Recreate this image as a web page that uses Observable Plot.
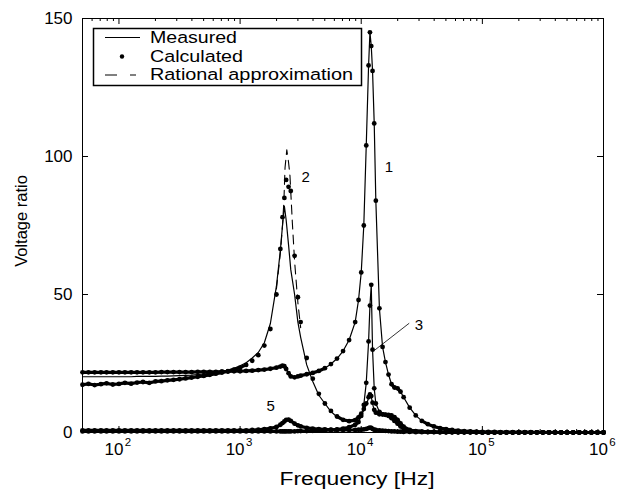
<!DOCTYPE html>
<html><head><meta charset="utf-8">
<script src="https://cdn.jsdelivr.net/npm/d3@7"></script>
<script src="https://cdn.jsdelivr.net/npm/@observablehq/plot@0.6"></script>
<style>body{margin:0;background:#fff} svg{display:block}</style>
</head><body><div id="chart"></div><script>
// Frequency grid [Hz]
const freq = [
  50, 56, 63, 71, 79, 89, 100, 112, 126, 141, 158, 178, 200, 224, 251, 282, 316, 355, 398, 447, 501, 562, 631, 708, 794, 891,
  1000, 1122, 1259, 1413, 1585, 1778, 1995, 2150, 2239, 2320, 2400, 2512, 2620, 2818, 3000, 3162, 3548, 3981, 4467, 5012, 5623, 6310, 7079, 7943, 8913, 9500,
  10000, 10500, 11000, 11500, 11800, 12100, 12400, 12800, 13200, 14125, 15000, 15849, 16800, 17783, 18800, 19953, 21100, 22387, 25119, 28184, 31623, 35481, 39811, 44668, 50119, 56234, 63096, 70795, 79433, 89125,
  100000, 112000, 126000, 141000, 158000, 178000, 200000, 224000, 251000, 282000, 316000, 355000, 398000, 447000, 501000, 562000, 631000, 708000, 794000, 891000, 1000000
];
// Curve 1
const measured1 = [
  21.8,21.8,21.8,21.8,21.8,21.8,21.8,21.8,21.8,21.8,21.8,21.8,21.8,21.9,21.9,21.9,21.9,21.9,21.9,22.0,22.0,22.0,22.0,22.1,22.1,22.2,
  22.2,22.3,22.4,22.6,22.8,23.1,23.5,23.9,24.2,24.0,23.0,21.5,20.3,20.0,20.3,20.6,21.1,21.6,22.3,23.3,24.8,26.8,29.5,33.5,40,48,
  58,75,104,133,145,140,131,112,84,45,31,25.5,21,17.5,16.3,16,14.8,12.8,9,6.2,4.2,3.0,2.2,1.6,1.2,0.9,0.7,0.5,0.4,0.3,
  0.25,0.2,0.2,0.15,0.15,0.1,0.1,0.1,0.1,0.05,0.05,0.05,0.05,0,0,0,0,0,0,0,0
];
const calculated1 = measured1;
// Curve 2
const measured2 = [
  20.2,20.2,20.2,20.2,20.2,20.2,20.2,20.2,20.2,20.3,20.3,20.3,20.3,20.4,20.4,20.5,20.6,20.7,20.8,21.0,21.2,21.5,21.8,22.1,22.6,23.3,
  24.2,25.3,27,29,32.5,39.5,53,66,75,82,77,68,59,50,40,34.5,24.5,18.5,13.5,10.5,7.6,5.6,4.4,3.9,4.3,5.2,
  6.5,8,10,12.5,13.5,13,10.5,8,7,6.5,6.6,6.6,6.2,5.5,4.5,3.4,2.4,1.5,0.7,0.4,0.3,0.2,0.2,0.1,0.1,0.1,0.1,0.05,0.05,0.05,
  0,0,0,0,0,0,0,0,0,0,0,0,0,0,0,0,0,0,0,0,0
];
const calculated2 = [
  17.3,17.6,17.2,17.5,17.8,17.4,17.6,18.0,17.7,18.1,18.3,18.0,18.5,18.6,18.9,19.1,19.3,19.6,19.9,20.2,20.5,20.9,21.3,21.7,22.2,22.8,
  23.5,24.5,26,28,31.5,37.5,50,66.5,78,85,91.5,89,87.5,64,49,40,27,19.5,14,10.5,7.8,5.8,4.6,4.1,4.5,5.5,
  6.8,8.5,10.5,12.8,13.8,13.2,10.8,8.2,7.2,6.6,6.6,6.5,6.0,5.2,4.2,3.2,2.2,1.4,0.7,0.4,0.3,0.2,0.2,0.1,0.1,0.1,0.1,0.05,0.05,0.05,
  0,0,0,0,0,0,0,0,0,0,0,0,0,0,0,0,0,0,0,0,0
];
const rationalFreq = [1995, 2150, 2239, 2300, 2350, 2430, 2510, 2580, 2700, 2818, 3000, 3162];
const rational2 = [52, 65, 75, 84, 96, 102.4, 98, 93, 76, 62, 47, 38];
// Curve 3
const measured3 = [
  0.4,0.4,0.4,0.4,0.4,0.4,0.4,0.4,0.4,0.4,0.4,0.4,0.4,0.4,0.4,0.4,0.4,0.4,0.4,0.4,0.4,0.4,0.4,0.4,0.4,0.4,
  0.4,0.4,0.4,0.4,0.4,0.4,0.4,0.4,0.4,0.4,0.4,0.4,0.4,0.4,0.5,0.5,0.5,0.6,0.7,0.8,0.9,1.1,1.4,1.9,2.8,3.8,
  6,10,18,33,46,53.5,30,16,10.5,7.5,6.6,6.4,6.4,6.2,5.6,4.6,3.3,2.1,0.9,0.5,0.3,0.2,0.2,0.1,0.1,0.1,0.05,0.05,0.05,0.05,
  0,0,0,0,0,0,0,0,0,0,0,0,0,0,0,0,0,0,0,0,0
];
const calculated3 = measured3;
// Curve 5
const measured5 = [
  0.8,0.8,0.8,0.8,0.8,0.8,0.8,0.8,0.8,0.8,0.8,0.8,0.8,0.8,0.8,0.8,0.8,0.8,0.8,0.8,0.8,0.8,0.8,0.8,0.8,0.8,
  0.8,0.8,0.9,1.0,1.2,1.5,2.0,2.8,3.4,4.0,4.6,4.7,4.2,3.2,2.6,2.2,1.7,1.4,1.2,1.1,1.0,0.9,0.9,0.9,0.9,1.0,
  1.0,1.1,1.3,1.6,1.8,1.7,1.3,1.0,0.9,0.8,0.7,0.6,0.5,0.4,0.4,0.3,0.3,0.2,0.2,0.1,0.1,0.1,0.1,0.1,0.05,0.05,0.05,0.05,0.05,0.05,
  0,0,0,0,0,0,0,0,0,0,0,0,0,0,0,0,0,0,0,0,0
];
const calculated5 = measured5;
// Curve labels
const labelText = ["1", "2", "3", "5"];
const labelFreq = [16900, 3480, 29900, 1790];
const labelValue = [96, 92.5, 38.8, 9.4];
const leaderFrom = [12800, 29.7];
const leaderTo = [24900, 39.6];
// Axes
const yTicks = [0, 50, 100, 150];
const xMajor = [100, 1000, 10000, 100000, 1000000];
const xExponent = ["2", "3", "4", "5", "6"];
const legendLabels = ["Measured", "Calculated", "Rational approximation"];

const rows = (fs, vs, curve) => fs.map((f, i) => ({f, v: vs[i], curve}));
const measuredRows = [...rows(freq, measured1, "1"), ...rows(freq, measured2, "2"), ...rows(freq, measured3, "3"), ...rows(freq, measured5, "5")];
const calcSeries = [[calculated1, "1"], [calculated2, "2"], [calculated3, "3"], [calculated5, "5"]];
const calculatedRows = calcSeries.flatMap(([vs, c]) => rows(freq, vs, c));
// where calculated points crowd together (shallow slope) they merge into a heavy band
const denseSegments = calcSeries.flatMap(([vs, c]) =>
  vs.slice(1).map((v, i) => ({f1: freq[i], v1: vs[i], f2: freq[i + 1], v2: v}))
    .filter(s => Math.abs(s.v2 - s.v1) < 1.5));
const rationalRows = rows(rationalFreq, rational2, "2");
const xMinor = d3.scaleLog().domain([50, 1e6]).ticks().filter(t => Math.abs(Math.log10(t) - Math.round(Math.log10(t))) > 1e-6);

const W = 622, H = 491, ML = 82, MR = 19, MT = 18, MB = 59;
const pw = W - ML - MR, ph = H - MT - MB;

const svg = Plot.plot({
  width: W, height: H, marginLeft: ML, marginRight: MR, marginTop: MT, marginBottom: MB,
  x: {type: "log", domain: [50, 1e6], axis: null},
  y: {domain: [0, 150], axis: null},
  style: {fontFamily: "'Liberation Sans', Arial, Helvetica, sans-serif", fontSize: "17px", background: "white", color: "black"},
  marks: [
    Plot.link(denseSegments, {x1: "f1", y1: "v1", x2: "f2", y2: "v2", stroke: "black", strokeWidth: 3.2, strokeLinecap: "round"}),
    Plot.line(measuredRows, {x: "f", y: "v", z: "curve", stroke: "black", strokeWidth: 1.2}),
    Plot.line(rationalRows, {x: "f", y: "v", stroke: "black", strokeWidth: 1.1, strokeDasharray: "9,6"}),
    Plot.dot(calculatedRows, {x: "f", y: "v", r: 2.4, fill: "black", stroke: "none"}),
    Plot.text(labelText, {x: (d, i) => labelFreq[i], y: (d, i) => labelValue[i], text: d => d, fontSize: 15}),
    Plot.link([0], {x1: () => leaderFrom[0], y1: () => leaderFrom[1], x2: () => leaderTo[0], y2: () => leaderTo[1], stroke: "black", strokeWidth: 0.8}),
    // inside ticks
    Plot.tickX(xMajor, {x: d => d, insetBottom: ph - 6, stroke: "black"}),
    Plot.tickX(xMajor, {x: d => d, insetTop: ph - 6, stroke: "black"}),
    Plot.tickX(xMinor, {x: d => d, insetBottom: ph - 3, stroke: "black"}),
    Plot.tickX(xMinor, {x: d => d, insetTop: ph - 3, stroke: "black"}),
    Plot.tickY(yTicks, {y: d => d, insetRight: pw - 6, stroke: "black"}),
    Plot.tickY(yTicks, {y: d => d, insetLeft: pw - 6, stroke: "black"}),
    // tick labels
    Plot.text(yTicks, {y: d => d, frameAnchor: "left", textAnchor: "end", dx: -10, fontSize: 17}),
    Plot.text(xMajor, {x: d => d, frameAnchor: "bottom", dy: 22, dx: -5, text: () => "10", fontSize: 17}),
    Plot.text(xMajor, {x: d => d, frameAnchor: "bottom", dy: 13.5, dx: 9, text: (d, i) => xExponent[i], fontSize: 11.5}),
    Plot.frame({stroke: "black", strokeWidth: 1})
  ]
});
document.getElementById("chart").appendChild(svg);

const s = d3.select(svg);
const font = "'Liberation Sans', Arial, Helvetica, sans-serif";
// Axis titles
s.append("text").attr("x", 357).attr("y", 485).attr("text-anchor", "middle")
  .attr("font-family", font).attr("font-size", 18).attr("textLength", 155).attr("lengthAdjust", "spacingAndGlyphs")
  .text("Frequency [Hz]");
s.append("text").attr("transform", "translate(26.5,221) rotate(-90)").attr("text-anchor", "middle")
  .attr("font-family", font).attr("font-size", 16.5).text("Voltage ratio");
// Legend
const lg = s.append("g");
lg.append("rect").attr("x", 93.5).attr("y", 28.5).attr("width", 268).attr("height", 57)
  .attr("fill", "white").attr("stroke", "black").attr("stroke-width", 1.5);
lg.append("line").attr("x1", 105).attr("x2", 140).attr("y1", 37.5).attr("y2", 37.5).attr("stroke", "black");
lg.append("circle").attr("cx", 122).attr("cy", 56.5).attr("r", 2.2).attr("fill", "black");
lg.append("line").attr("x1", 105).attr("x2", 136).attr("y1", 75).attr("y2", 75).attr("stroke", "black").attr("stroke-dasharray", "12,13");
const legendY = [43.3, 61.7, 80];
const legendLen = [87, 93, 203];
legendLabels.forEach((t, i) => {
  lg.append("text").attr("x", 150).attr("y", legendY[i]).attr("text-anchor", "start")
    .attr("font-family", font).attr("font-size", 16.3)
    .attr("textLength", legendLen[i]).attr("lengthAdjust", "spacingAndGlyphs").text(t);
});
</script></body></html>
